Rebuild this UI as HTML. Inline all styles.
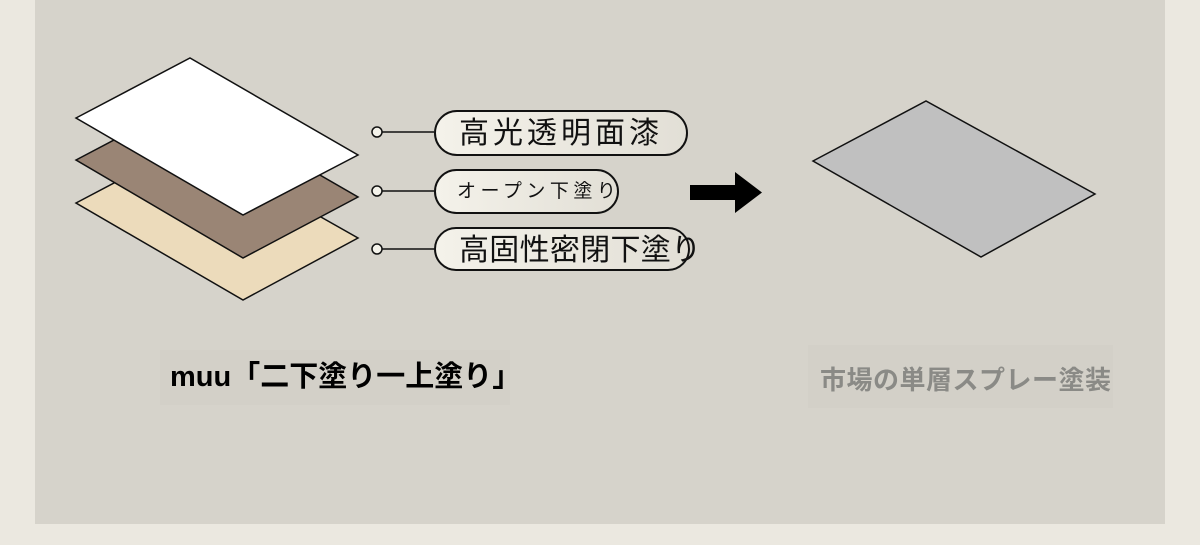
<!DOCTYPE html>
<html><head><meta charset="utf-8"><style>
body{margin:0;width:1200px;height:545px;background:#ebe8e0;position:relative;overflow:hidden;font-family:"Liberation Sans","Noto Sans CJK JP",sans-serif}
.panel{position:absolute;left:35px;top:0;width:1130px;height:524px;background:#d6d3cb}
.pill{position:absolute;border:2px solid #111;border-radius:24px;background:linear-gradient(90deg,#f4f2ea,#e2dfd6);box-sizing:border-box;white-space:nowrap;color:#111}
.t{position:absolute;white-space:nowrap;font-weight:bold}
</style></head><body>
<div class="panel"></div>
<svg width="1200" height="545" style="position:absolute;left:0;top:0">
<polygon points="76,203 190,143 358,238 243,300" fill="#ecdbbb" stroke="#111" stroke-width="1.5"/>
<polygon points="76,160 190,100 358,197 243,258" fill="#9a8575" stroke="#111" stroke-width="1.5"/>
<polygon points="76,118 190,58 358,155 243,215" fill="#ffffff" stroke="#111" stroke-width="1.5"/>
<g stroke="#111" stroke-width="1.5" fill="#f4f2ea">
<line x1="382" y1="132" x2="434" y2="132"/><circle cx="377" cy="132" r="5"/>
<line x1="382" y1="191" x2="434" y2="191"/><circle cx="377" cy="191" r="5"/>
<line x1="382" y1="249" x2="434" y2="249"/><circle cx="377" cy="249" r="5"/>
</g>
<polygon points="690,185 735,185 735,172 762,192.5 735,213 735,200 690,200" fill="#000"/>
<polygon points="813,161 926,101 1095,194 981,257" fill="#c0c0c0" stroke="#111" stroke-width="1.5"/>
<rect x="160" y="350" width="350" height="55" fill="#d3d0c8"/>
<rect x="808" y="345" width="305" height="63" fill="#d3d0c8"/>
</svg>
<div class="pill" style="left:434px;top:110px;width:254px;height:46px"></div>
<div class="pill" style="left:434px;top:169px;width:185px;height:45px"></div>
<div class="pill" style="left:434px;top:227px;width:256px;height:44px"></div>
<div style="position:absolute;left:459px;top:114px;font-size:30px;letter-spacing:4px;line-height:40px;color:#111;white-space:nowrap">高光透明面漆</div>
<div style="position:absolute;left:457px;top:178px;font-size:19px;letter-spacing:4.5px;line-height:28px;color:#111;white-space:nowrap">オープン下塗り</div>
<div style="position:absolute;left:459px;top:231px;font-size:30px;letter-spacing:0.3px;line-height:40px;color:#111;white-space:nowrap">高固性密閉下塗り</div>
<div class="t" style="left:170px;top:359px;font-size:29px;line-height:36px;color:#000">muu「二下塗り一上塗り」</div>
<div class="t" style="left:820px;top:362px;font-size:26px;line-height:36px;color:#8a8a86;letter-spacing:0.5px">市場の単層スプレー塗装</div>
</body></html>
